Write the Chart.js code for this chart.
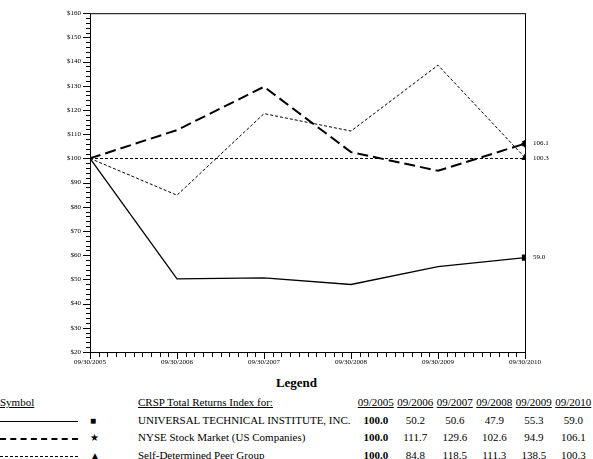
<!DOCTYPE html>
<html><head><meta charset="utf-8">
<script src="https://cdn.jsdelivr.net/npm/chart.js@4"></script>
<style>
body{margin:0;background:#fff;font-family:"Liberation Serif","Times New Roman",serif;}
#wrap{position:relative;width:593px;height:366px;}
table{border-collapse:collapse;font-size:11px;position:absolute;left:0;top:394px;width:593px;}
td{padding:0;height:17.5px;line-height:17px;white-space:nowrap;}
.u{text-decoration:underline;}
.c{text-align:center;}
h3{position:absolute;top:375px;left:0;width:593px;text-align:center;margin:0;font-size:13px;}
</style></head><body>
<div id="wrap"><canvas id="c"></canvas></div>
<h3>Legend</h3>
<table id="t"></table>
<script>
const categories=["09/30/2005","09/30/2006","09/30/2007","09/30/2008","09/30/2009","09/30/2010"];
const years=["09/2005","09/2006","09/2007","09/2008","09/2009","09/2010"];
const uti=[100.0,50.2,50.6,47.9,55.3,59.0];
const nyse=[100.0,111.7,129.6,102.6,94.9,106.1];
const peer=[100.0,84.8,118.5,111.3,138.5,100.3];
const names=["UNIVERSAL TECHNICAL INSTITUTE, INC.","NYSE Stock Market (US Companies)","Self-Determined Peer Group"];
const yTicks=[20,30,40,50,60,70,80,90,100,110,120,130,140,150,160];
const FF="'Liberation Serif', 'Times New Roman', serif";

function ds(label,vals,dash,w,style){
  return {label,data:vals.map((v,i)=>({x:i,y:v})),borderColor:'#000',backgroundColor:'#000',
    borderWidth:w,borderDash:dash,pointStyle:style,tension:0,
    pointRadius:vals.map((v,i)=>i===vals.length-1?3.5:0)};
}
const tickPlugin={id:'tk',afterDraw(ch){
  const c=ch.ctx,x=ch.scales.x,y=ch.scales.y,a=ch.chartArea;
  c.save();c.strokeStyle='#000';c.lineWidth=1;
  c.strokeRect(a.left+0.5,a.top+0.5,a.right-a.left,a.bottom-a.top);
  c.beginPath();
  for(let v=20;v<=160;v+=2){const p=Math.round(y.getPixelForValue(v))+0.5;const L=v%10===0?7:4;c.moveTo(a.left-L,p);c.lineTo(a.left,p);}
  for(let i=0;i<=50;i++){const p=Math.round(x.getPixelForValue(i/10))+0.5;const L=i%10===0?7:5;c.moveTo(p,a.bottom);c.lineTo(p,a.bottom+L);}
  c.stroke();
  c.setLineDash([3,2]);c.beginPath();const p=Math.round(y.getPixelForValue(100))+0.5;c.moveTo(a.left,p);c.lineTo(a.right,p);c.stroke();
  c.setLineDash([]);
  c.fillStyle='#000';c.font="7px "+FF;c.textBaseline='middle';
  [uti,nyse,peer].forEach(s=>{const v=s[5];c.fillText(v.toFixed(1),x.getPixelForValue(5)+8,y.getPixelForValue(v));});
  c.restore();
}};
function build(){
Chart.defaults.font.family=FF;
new Chart(document.getElementById('c'),{type:'line',
 data:{datasets:[ds(names[0],uti,[],1.3,'rect'),ds(names[1],nyse,[11,5],2,'star'),ds(names[2],peer,[3,2],1,'triangle')]},
 options:{responsive:true,maintainAspectRatio:false,animation:false,
  layout:{padding:{top:6,right:68,left:0,bottom:0}},
  plugins:{legend:{display:false},tooltip:{enabled:false}},
  scales:{
   x:{type:'linear',min:0,max:5,grid:{display:false,drawTicks:false},border:{display:false},
      afterBuildTicks:s=>{s.ticks=categories.map((c,i)=>({value:i}));},
      ticks:{padding:6,maxRotation:0,autoSkip:false,color:'#000',font:{family:FF,size:7},callback:(v)=>categories[v]},
      afterFit:s=>{s.height=14;}},
   y:{min:20,max:160,grid:{display:false,drawTicks:false},border:{display:false},
      afterBuildTicks:s=>{s.ticks=yTicks.map(v=>({value:v}));},
      ticks:{padding:9,color:'#000',font:{family:FF,size:7},callback:v=>'$'+v},
      afterFit:s=>{s.width=90;}}
  }},plugins:[tickPlugin]});
}
document.fonts.load("7px 'Liberation Serif'").then(build,build);
const sym=['<span style="display:inline-block;width:78px;border-top:1.3px solid #000;vertical-align:middle"></span>',
 '<span style="display:inline-block;width:78px;border-top:2.5px dashed #000;vertical-align:middle"></span>',
 '<span style="display:inline-block;width:78px;border-top:1px dashed #000;vertical-align:middle"></span>'];
const mk=['■','★','▲'];
let h='<tr><td class="u" style="width:90px">Symbol</td><td style="width:48px"></td><td class="u" style="width:218px">CRSP Total Returns Index for:</td>'+years.map(y=>'<td class="c u">'+y+'</td>').join('')+'</tr>';
[uti,nyse,peer].forEach((s,k)=>{h+='<tr><td>'+sym[k]+'</td><td style="font-size:10px">'+mk[k]+'</td><td>'+names[k]+'</td>'+s.map((v,i)=>'<td class="c"'+(i===0?' style="font-weight:bold"':'')+'>'+v.toFixed(1)+'</td>').join('')+'</tr>';});
document.getElementById('t').innerHTML=h;
</script></body></html>
